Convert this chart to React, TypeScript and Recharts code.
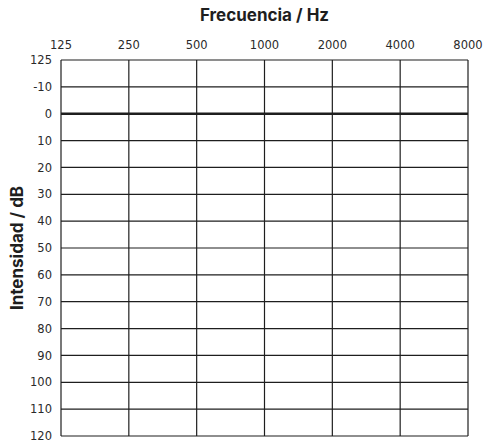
import React from "react";
import { LineChart, Line, XAxis, YAxis, CartesianGrid, Label } from "recharts";

const frequencies = [125, 250, 500, 1000, 2000, 4000, 8000];
const frequencyLabels = ["125", "250", "500", "1000", "2000", "4000", "8000"];
const levelTicks = [-20, -10, 0, 10, 20, 30, 40, 50, 60, 70, 80, 90, 100, 110, 120];
const levelLabels = ["125", "-10", "0", "10", "20", "30", "40", "50", "60", "70", "80", "90", "100", "110", "120"];
const baseline = [0, 0, 0, 0, 0, 0, 0];

const data = frequencies.map((f, i) => ({ f, base: baseline[i] }));

const TICK_FONT = "'DejaVu Sans', sans-serif";
const TITLE_FONT = "Inter, 'Noto Sans', sans-serif";
const INK = "#1e1e1e";

export default function App() {
  return (
    <div style={{ position: "absolute", left: 0, top: 0, width: 485, height: 443, background: "#fff" }}>
      <LineChart
        width={485}
        height={443}
        data={data}
        margin={{ top: 30, right: 17, bottom: 7, left: 20 }}
        style={{ overflow: "visible" }}
      >
        <CartesianGrid stroke={INK} strokeWidth={1.2} />
        <XAxis
          dataKey="f"
          type="number"
          scale="log"
          domain={[125, 8000]}
          ticks={frequencies}
          tickFormatter={(v: number) => frequencyLabels[frequencies.indexOf(v)] ?? String(v)}
          orientation="top"
          axisLine={false}
          tickLine={false}
          tickMargin={5}
          height={30}
          allowDataOverflow
          interval={0}
          tick={{ fontSize: 11.5, fill: "#2a2a2a", fontFamily: TICK_FONT }}
        >
          <Label
            content={({ viewBox }: any) => (
              <text
                x={viewBox.x + viewBox.width / 2}
                y={21}
                textAnchor="middle"
                fontSize={17}
                fontWeight={700}
                fontFamily={TITLE_FONT}
                fill={INK}
              >
                Frecuencia / Hz
              </text>
            )}
          />
        </XAxis>
        <YAxis
          type="number"
          domain={[-20, 120]}
          reversed
          ticks={levelTicks}
          interval={0}
          tickFormatter={(v: number) => levelLabels[levelTicks.indexOf(v)] ?? String(v)}
          axisLine={false}
          tickLine={false}
          tickMargin={3}
          width={41}
          tick={{ fontSize: 11.5, fill: "#2a2a2a", fontFamily: TICK_FONT }}
        >
          <Label
            content={({ viewBox }: any) => {
              const cx = 17;
              const cy = viewBox.y + viewBox.height / 2;
              return (
                <text
                  x={cx}
                  y={cy}
                  transform={`rotate(-90 ${cx} ${cy})`}
                  textAnchor="middle"
                  dominantBaseline="central"
                  fontSize={17}
                  fontWeight={700}
                  fontFamily={TITLE_FONT}
                  fill={INK}
                >
                  Intensidad / dB
                </text>
              );
            }}
          />
        </YAxis>
        <Line dataKey="base" stroke={INK} strokeWidth={2.5} dot={false} isAnimationActive={false} />
      </LineChart>
    </div>
  );
}
